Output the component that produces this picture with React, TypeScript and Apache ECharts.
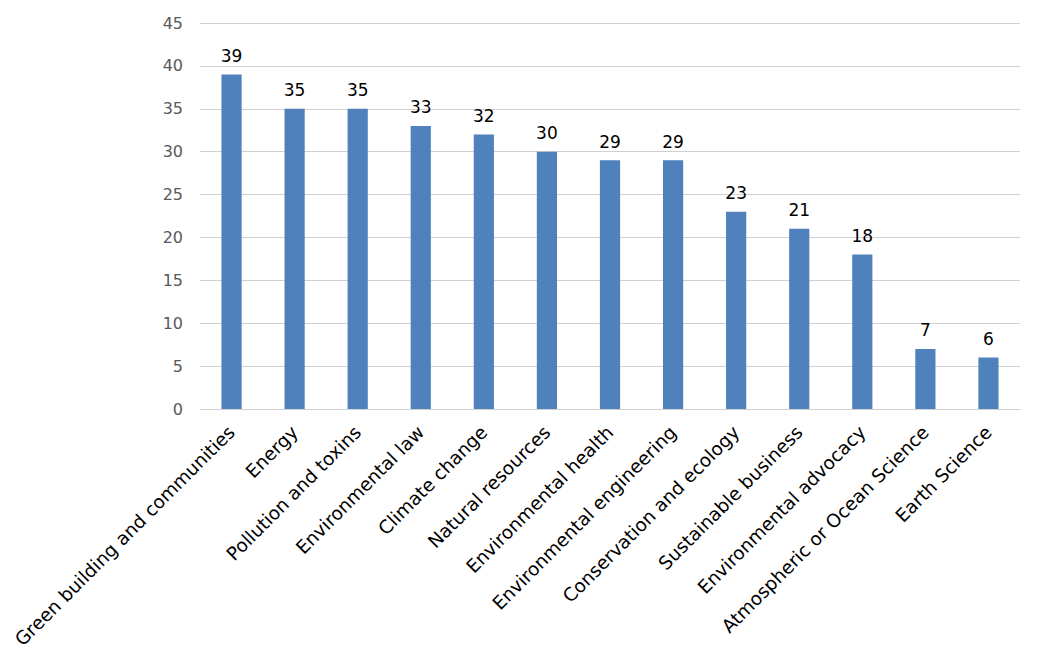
import React, { useEffect, useRef } from "react";
import * as echarts from "echarts";

const categories = [
  "Green building and communities",
  "Energy",
  "Pollution and toxins",
  "Environmental law",
  "Climate change",
  "Natural resources",
  "Environmental health",
  "Environmental engineering",
  "Conservation and ecology",
  "Sustainable business",
  "Environmental advocacy",
  "Atmospheric or Ocean Science",
  "Earth Science",
];
const values = [39, 35, 35, 33, 32, 30, 29, 29, 23, 21, 18, 7, 6];

export default function App() {
  const ref = useRef<HTMLDivElement>(null);
  useEffect(() => {
    const chart = echarts.init(ref.current!, null, { renderer: "svg" });
    chart.setOption({
      animation: false,
      grid: { left: 192, right: 15, top: 15, bottom: 250, containLabel: false },
      xAxis: {
        type: "category",
        data: categories,
        axisTick: { show: false },
        axisLine: { show: true, lineStyle: { color: "#d0d0d0", width: 1 } },
        axisLabel: {
          rotate: 45,
          interval: 0,
          color: "#000",
          fontFamily: "DejaVu Sans",
          fontSize: 18.5,
          margin: 20,
        },
      },
      yAxis: {
        type: "value",
        min: 0,
        max: 45,
        interval: 5,
        axisLine: { show: false },
        axisTick: { show: false },
        splitLine: { lineStyle: { color: "#d0d0d0", width: 1 } },
        axisLabel: {
          color: "#595959",
          fontFamily: "DejaVu Sans",
          fontSize: 16,
          margin: 17,
        },
      },
      series: [
        {
          type: "bar",
          data: values,
          barWidth: "32%",
          itemStyle: { color: "#4F81BD" },
          label: {
            show: true,
            position: "top",
            distance: 10,
            color: "#000",
            fontFamily: "DejaVu Sans",
            fontSize: 17,
          },
        },
      ],
    });
    return () => chart.dispose();
  }, []);
  return <div ref={ref} style={{ width: 1027, height: 651 }} />;
}
